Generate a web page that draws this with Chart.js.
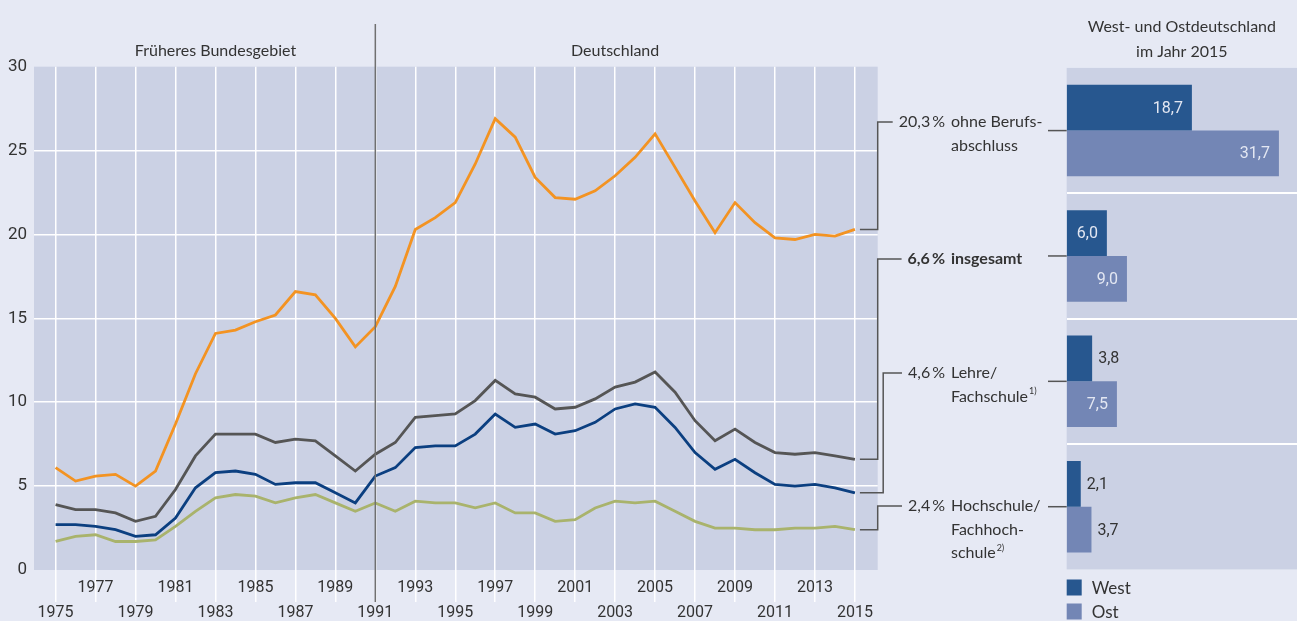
<!DOCTYPE html>
<html lang="de">
<head>
<meta charset="UTF-8">
<title>Qualifikationsspezifische Arbeitslosenquoten</title>
<script src="https://cdn.jsdelivr.net/npm/chart.js"></script>
<style>
  body { margin: 0; background: #e6e9f4; width: 1297px; height: 621px; overflow: hidden; position: relative; }
  #linechart { position: absolute; left: 0; top: 0; }
  #barchart { position: absolute; left: 1040px; top: 0; }
</style>
</head>
<body>
<canvas id="linechart" width="1066" height="621"></canvas>
<canvas id="barchart" width="257" height="621"></canvas>
<script>
// years on the x axis
const years = [1975, 1976, 1977, 1978, 1979, 1980, 1981, 1982, 1983, 1984, 1985, 1986, 1987, 1988, 1989, 1990,
  1991, 1992, 1993, 1994, 1995, 1996, 1997, 1998, 1999, 2000, 2001, 2002, 2003, 2004, 2005, 2006, 2007, 2008,
  2009, 2010, 2011, 2012, 2013, 2014, 2015];
const tickYears = [1975, 1977, 1979, 1981, 1983, 1985, 1987, 1989, 1991, 1993, 1995, 1997, 1999, 2001, 2003,
  2005, 2007, 2009, 2011, 2013, 2015];
const dividerYear = 1991;

// Arbeitslosenquoten in %
const ohneAbschluss = [6.1, 5.3, 5.6, 5.7, 5.0, 5.9, 8.7, 11.7, 14.1, 14.3, 14.8, 15.2, 16.6, 16.4, 15.0, 13.3,
  14.5, 16.9, 20.3, 21.0, 21.9, 24.2, 26.9, 25.8, 23.4, 22.2, 22.1, 22.6, 23.5, 24.6, 26.0, 24.0, 22.0, 20.1,
  21.9, 20.7, 19.8, 19.7, 20.0, 19.9, 20.3];
const insgesamt = [3.9, 3.6, 3.6, 3.4, 2.9, 3.2, 4.8, 6.8, 8.1, 8.1, 8.1, 7.6, 7.8, 7.7, 6.8, 5.9,
  6.9, 7.6, 9.1, 9.2, 9.3, 10.1, 11.3, 10.5, 10.3, 9.6, 9.7, 10.2, 10.9, 11.2, 11.8, 10.6, 8.9, 7.7,
  8.4, 7.6, 7.0, 6.9, 7.0, 6.8, 6.6];
const lehre = [2.7, 2.7, 2.6, 2.4, 2.0, 2.1, 3.1, 4.9, 5.8, 5.9, 5.7, 5.1, 5.2, 5.2, 4.6, 4.0,
  5.6, 6.1, 7.3, 7.4, 7.4, 8.1, 9.3, 8.5, 8.7, 8.1, 8.3, 8.8, 9.6, 9.9, 9.7, 8.5, 7.0, 6.0,
  6.6, 5.8, 5.1, 5.0, 5.1, 4.9, 4.6];
const hochschule = [1.7, 2.0, 2.1, 1.7, 1.7, 1.8, 2.6, 3.5, 4.3, 4.5, 4.4, 4.0, 4.3, 4.5, 4.0, 3.5,
  4.0, 3.5, 4.1, 4.0, 4.0, 3.7, 4.0, 3.4, 3.4, 2.9, 3.0, 3.7, 4.1, 4.0, 4.1, 3.5, 2.9, 2.5,
  2.5, 2.4, 2.4, 2.5, 2.5, 2.6, 2.4];

// West/Ost 2015
const barCategories = ['ohne Berufsabschluss', 'insgesamt', 'Lehre/Fachschule', 'Hochschule/Fachhochschule'];
const westValues = [18.7, 6.0, 3.8, 2.1];
const ostValues = [31.7, 9.0, 7.5, 3.7];

const textFont = 'Lato, sans-serif';
const numFont = 'Roboto, sans-serif';
const textColor = '#333';
const plotBg = '#cbd1e4';

const series = [
  { values: ohneAbschluss, color: '#f39322' },
  { values: insgesamt, color: '#555555' },
  { values: lehre, color: '#0b3f80' },
  { values: hochschule, color: '#a9b36c' }
];

// text beside the line ends
const notes = [
  { lines: ['ohne Berufs-', 'abschluss'], top: 122, shift: 0, bold: false },
  { lines: ['insgesamt'], top: 259, shift: 0, bold: true },
  { lines: ['Lehre/', 'Fachschule'], sup: '1)', top: 373, shift: 5.5, bold: false },
  { lines: ['Hochschule/', 'Fachhoch-', 'schule'], sup: '2)', top: 506, shift: 0, bold: false }
];

const sections = [
  { label: 'Früheres Bundesgebiet', from: 1975, to: 1991 },
  { label: 'Deutschland', from: 1991, to: 2015 }
];

const fmt = v => v.toFixed(1).replace('.', ',');

const areaBg = {
  id: 'areaBg',
  beforeDraw(chart) {
    const { ctx, chartArea: a } = chart;
    ctx.save();
    ctx.fillStyle = plotBg;
    ctx.fillRect(a.left, a.top, a.right - a.left, a.bottom - a.top);
    ctx.restore();
  }
};

const lineNotes = {
  id: 'lineNotes',
  afterDraw(chart) {
    const { ctx, chartArea, scales: { x, y } } = chart;
    ctx.save();
    // Trennlinie 1991
    const dx = x.getPixelForValue(dividerYear);
    ctx.strokeStyle = '#707070';
    ctx.lineWidth = 1.5;
    ctx.beginPath();
    ctx.moveTo(dx, 24);
    ctx.lineTo(dx, 602);
    ctx.stroke();

    ctx.fillStyle = textColor;
    ctx.font = '16px ' + textFont;
    ctx.textAlign = 'center';
    ctx.textBaseline = 'middle';
    sections.forEach(s => {
      ctx.fillText(s.label, (x.getPixelForValue(s.from) + x.getPixelForValue(s.to)) / 2, 51);
    });

    // Klammern + Beschriftung
    notes.forEach((n, i) => {
      const data = chart.data.datasets[i].data;
      const last = data[data.length - 1];
      const px = x.getPixelForValue(last.x) + 5;
      const py = y.getPixelForValue(last.y);
      const bx = chartArea.right + n.shift;
      const weight = n.bold ? 'bold ' : '';
      ctx.font = weight + '16px ' + textFont;
      const pct = fmt(last.y) + '\u2009%';
      const w = ctx.measureText(pct).width;
      ctx.strokeStyle = '#555';
      ctx.lineWidth = 1.5;
      ctx.beginPath();
      ctx.moveTo(px, py);
      ctx.lineTo(bx, py);
      ctx.lineTo(bx, n.top);
      ctx.lineTo(945 - w - 6, n.top);
      ctx.stroke();

      ctx.textAlign = 'right';
      ctx.fillText(pct, 945, n.top);
      ctx.textAlign = 'left';
      n.lines.forEach((t, k) => {
        const ty = n.top + k * 23.5;
        ctx.font = weight + '16px ' + textFont;
        ctx.fillText(t, 951, ty);
        if (n.sup && k === n.lines.length - 1) {
          const tw = ctx.measureText(t).width;
          ctx.font = '9px ' + textFont;
          ctx.fillText(n.sup, 951 + tw + 1, ty - 5);
        }
      });
    });
    ctx.restore();
  }
};

new Chart(document.getElementById('linechart'), {
  type: 'line',
  data: {
    datasets: series.map(s => ({
      data: years.map((yr, j) => ({ x: yr, y: s.values[j] })),
      borderColor: s.color,
      borderWidth: 2.8,
      pointRadius: 0,
      tension: 0,
      fill: false
    }))
  },
  options: {
    responsive: false,
    animation: false,
    devicePixelRatio: 1,
    layout: { padding: { left: 0, right: 188.3, top: 66.7, bottom: 0 } },
    scales: {
      x: {
        type: 'linear',
        min: 1973.92,
        max: 2016.14,
        afterBuildTicks: scale => { scale.ticks = tickYears.map(v => ({ value: v })); },
        afterFit: scale => { scale.height = 51; },
        border: { display: false },
        grid: { color: '#ffffff', lineWidth: 1.5, drawTicks: true, tickLength: 32, tickColor: '#ffffff' },
        ticks: {
          autoSkip: false,
          maxRotation: 0,
          padding: -27.3,
          color: textColor,
          font: { family: numFont, size: 16, lineHeight: 1.6 },
          callback: (value, index) => index % 2 === 0 ? ['', String(value)] : [String(value), '']
        }
      },
      y: {
        min: 0,
        max: 30,
        afterFit: scale => { scale.width = 34; },
        border: { display: false },
        grid: {
          drawTicks: false,
          lineWidth: 1.5,
          color: c => (c.tick && c.tick.value > 0 && c.tick.value < 30) ? '#ffffff' : 'rgba(0,0,0,0)'
        },
        ticks: { stepSize: 5, padding: 7, color: textColor, font: { family: numFont, size: 17 } }
      }
    },
    plugins: { legend: { display: false }, tooltip: { enabled: false } }
  },
  plugins: [areaBg, lineNotes]
});

const barNotes = {
  id: 'barNotes',
  afterDatasetsDraw(chart) {
    const { ctx, chartArea: a, scales: { y } } = chart;
    ctx.save();
    ctx.textBaseline = 'middle';
    ctx.font = '16px ' + numFont;
    chart.data.datasets.forEach((ds, di) => {
      chart.getDatasetMeta(di).data.forEach((bar, i) => {
        const v = ds.data[i];
        if (v >= 6) {
          ctx.textAlign = 'right';
          ctx.fillStyle = '#e3e7f2';
          ctx.fillText(fmt(v), bar.x - 9, bar.y + 1);
        } else {
          ctx.textAlign = 'left';
          ctx.fillStyle = textColor;
          ctx.fillText(fmt(v), bar.x + 6, bar.y + 1);
        }
      });
    });
    // Verbindungslinien zur Beschriftung
    ctx.strokeStyle = '#555';
    ctx.lineWidth = 1.5;
    barCategories.forEach((c, i) => {
      const cy = y.getPixelForValue(i);
      ctx.beginPath();
      ctx.moveTo(8, cy);
      ctx.lineTo(a.left, cy);
      ctx.stroke();
    });
    // Überschrift
    ctx.fillStyle = textColor;
    ctx.font = '16px ' + textFont;
    ctx.textAlign = 'center';
    const cx = (a.left + a.right) / 2;
    ctx.fillText('West- und Ostdeutschland', cx, 27);
    ctx.fillText('im Jahr 2015', cx, 52);
    // Legende
    ctx.textAlign = 'left';
    ctx.font = '17px ' + textFont;
    chart.data.datasets.forEach((ds, di) => {
      const ly = 579.5 + di * 24;
      ctx.fillStyle = ds.backgroundColor;
      ctx.fillRect(a.left, ly, 15, 16);
      ctx.fillStyle = textColor;
      ctx.fillText(ds.label, a.left + 25, ly + 9);
    });
    ctx.restore();
  }
};

new Chart(document.getElementById('barchart'), {
  type: 'bar',
  data: {
    labels: barCategories,
    datasets: [
      { label: 'West', data: westValues, backgroundColor: '#27578f' },
      { label: 'Ost', data: ostValues, backgroundColor: '#7386b5' }
    ]
  },
  options: {
    indexAxis: 'y',
    responsive: false,
    animation: false,
    devicePixelRatio: 1,
    layout: { padding: { left: 26.7, right: 0, top: 67.9, bottom: 51.6 } },
    datasets: { bar: { categoryPercentage: 0.73, barPercentage: 1 } },
    scales: {
      x: { display: false, min: 0, max: 34.4 },
      y: {
        afterFit: scale => { scale.width = 0; },
        border: { display: false },
        ticks: { display: false },
        grid: { drawTicks: false, lineWidth: 2, color: c => c.index > 0 ? '#ffffff' : 'rgba(0,0,0,0)' }
      }
    },
    plugins: { legend: { display: false }, tooltip: { enabled: false } }
  },
  plugins: [areaBg, barNotes]
});
</script>
</body>
</html>
